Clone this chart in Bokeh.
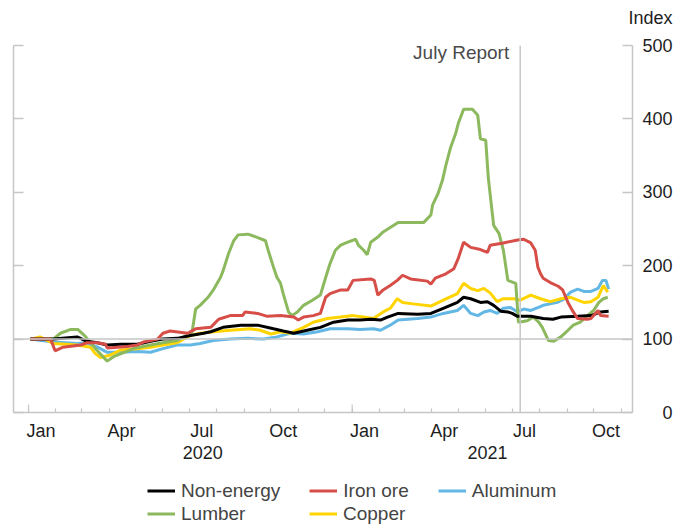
import pandas as pd
from bokeh.plotting import figure
from bokeh.layouts import column
from bokeh.models import LinearAxis, FixedTicker, Span, Label, Legend, LegendItem, Range1d
from bokeh.embed import file_html
from bokeh.resources import INLINE

START = pd.Timestamp("2020-01-01")


def to_day(d):
    return int((pd.Timestamp(d) - START).days)


# ---- data: x = days since 2020-01-01, y = index (Jan 2020 = 100) ----
nonenergy_day = [2, 28, 55, 66, 78, 89, 104, 123, 138, 152, 168, 183, 198, 206, 220, 240, 259, 277, 288, 300,
                 315, 330, 345, 361, 375, 387, 398, 406, 418, 440, 455, 469, 485, 492, 500, 511, 519, 526, 534, 542,
                 547, 553, 568, 582, 593, 602, 621, 636, 647, 656]
nonenergy_val = [100, 100, 103, 97, 95, 92, 93, 93, 97, 100, 101, 105, 108, 110, 116, 119, 119, 114, 111, 108,
                 112, 116, 123, 126, 126, 127, 126, 130, 135, 134, 135, 142, 150, 157, 155, 150, 151, 146, 138, 137,
                 135, 131, 131, 128, 127, 130, 131, 132, 137, 138]

ironore_day = [2, 25, 30, 39, 59, 66, 78, 87, 89, 112, 123, 130, 146, 152, 160, 180, 189, 206, 215, 228,
               242, 245, 259, 270, 285, 300, 305, 311, 322, 330, 336, 341, 353, 361, 367, 387, 391, 395, 401, 409,
               417, 423, 432, 451, 455, 460, 472, 481, 486, 492, 500, 511, 519, 522, 537, 553, 560, 568, 573, 576,
               579, 582, 590, 599, 604, 610, 616, 621, 632, 636, 644, 647, 656]
ironore_val = [100, 100, 84, 89, 92, 95, 95, 93, 88, 90, 92, 96, 100, 108, 111, 108, 114, 116, 127, 132,
               132, 137, 135, 131, 132, 130, 126, 130, 132, 135, 157, 162, 167, 167, 180, 182, 180, 160, 167, 173,
               180, 187, 182, 179, 175, 183, 189, 196, 210, 232, 225, 222, 218, 228, 231, 235, 236, 231, 221, 198,
               189, 183, 177, 172, 167, 150, 137, 128, 127, 128, 139, 132, 131]

aluminum_day = [2, 28, 55, 66, 78, 89, 104, 123, 138, 152, 168, 183, 194, 209, 228, 248, 266, 281, 296, 311,
                327, 341, 361, 375, 390, 398, 409, 418, 440, 455, 469, 485, 492, 500, 508, 515, 522, 530, 537, 545,
                553, 560, 568, 576, 582, 590, 598, 605, 613, 621, 628, 636, 644, 649, 653, 656]
aluminum_val = [100, 96, 94, 95, 89, 82, 82, 83, 82, 87, 92, 92, 94, 98, 100, 101, 100, 103, 108, 107,
                110, 114, 114, 113, 114, 112, 119, 126, 128, 130, 135, 139, 146, 135, 132, 137, 139, 135, 142, 143,
                137, 141, 139, 143, 146, 148, 150, 154, 164, 168, 165, 165, 169, 180, 180, 168]

lumber_day = [2, 28, 36, 47, 56, 64, 75, 85, 89, 96, 104, 121, 138, 152, 168, 180, 185, 189, 194, 203,
              209, 217, 220, 226, 232, 237, 248, 260, 268, 271, 277, 281, 285, 288, 294, 298, 304, 311, 321, 330,
              336, 341, 347, 353, 361, 370, 373, 379, 383, 387, 395, 401, 409, 418, 447, 455, 457, 463, 468, 472,
              477, 483, 486, 492, 502, 508, 511, 517, 520, 526, 532, 537, 542, 551, 554, 564, 571, 577, 581, 588,
              594, 602, 610, 616, 624, 632, 639, 645, 650, 655]
lumber_val = [100, 100, 108, 113, 113, 104, 88, 75, 70, 76, 80, 88, 92, 95, 98, 106, 110, 141, 146, 157,
              167, 184, 193, 216, 234, 242, 243, 238, 234, 221, 198, 184, 176, 162, 137, 132, 137, 146, 153, 160,
              184, 203, 221, 228, 232, 236, 228, 221, 215, 232, 239, 246, 252, 259, 259, 269, 283, 298, 316, 337,
              360, 380, 394, 413, 413, 405, 373, 371, 319, 255, 244, 221, 180, 176, 123, 125, 130, 123, 116, 98,
              97, 103, 112, 119, 123, 132, 139, 150, 155, 157]

copper_day = [2, 13, 28, 55, 70, 75, 81, 92, 104, 123, 138, 152, 168, 183, 194, 209, 228, 251, 262, 274,
              285, 296, 311, 322, 338, 353, 367, 379, 390, 401, 409, 417, 423, 435, 455, 469, 485, 492, 500, 508,
              515, 522, 530, 537, 549, 556, 568, 579, 590, 602, 613, 621, 628, 636, 644, 650, 655]
copper_val = [100, 103, 94, 92, 89, 81, 75, 78, 85, 87, 89, 92, 95, 105, 108, 110, 112, 114, 112, 107,
              110, 108, 116, 123, 128, 130, 132, 130, 128, 137, 142, 155, 150, 148, 145, 153, 162, 176, 169, 166,
              169, 163, 151, 155, 155, 153, 160, 155, 151, 155, 157, 153, 150, 151, 157, 173, 164]

month_label_names = ["Jan", "Apr", "Jul", "Oct", "Jan", "Apr", "Jul", "Oct"]
month_label_dates = ["2020-01-15", "2020-04-15", "2020-07-15", "2020-10-15",
                     "2021-01-15", "2021-04-15", "2021-07-15", "2021-10-15"]
year_labels = ["2020", "2021"]
year_label_dates = ["2020-07-16", "2021-06-03"]
year_start_dates = ["2020-01-01", "2021-01-01"]
y_ticks = [0, 100, 200, 300, 400, 500]
y_unit = "Index"
report_date = "2021-07-10"
report_text = "July Report"
base_index = 100
x_start, x_end = "2019-12-15", "2021-11-14"
legend_rows = [["Non-energy", "Iron ore", "Aluminum"], ["Lumber", "Copper"]]

# ---- styling ----
FONT = "Liberation Sans"
GRAY = "#c6c6c6"
TICK_COLOR = "#1e1e1e"
LEG_COLOR = "#444444"
COLORS = {
    "Non-energy": "#000000",
    "Iron ore": "#d64e47",
    "Aluminum": "#62b7e4",
    "Lumber": "#8cb95d",
    "Copper": "#ffd400",
}
W = 687
TOP_H, MAIN_H, LEG_H = 30, 442, 53


def bare_figure(h):
    f = figure(width=W, height=h, output_backend="svg", toolbar_location=None,
               x_range=Range1d(0, 1), y_range=Range1d(0, h),
               x_axis_location=None, y_axis_location=None,
               min_border=0, min_border_left=0, min_border_right=0,
               min_border_top=0, min_border_bottom=0)
    f.outline_line_color = None
    f.xgrid.visible = False
    f.ygrid.visible = False
    return f


# ---- top strip: unit label shown as a right-side axis label ----
top = bare_figure(TOP_H)
unit_ax = LinearAxis(ticker=FixedTicker(ticks=[TOP_H - 17]),
                     major_label_overrides={TOP_H - 17: y_unit},
                     axis_line_color=None, major_tick_line_color=None, minor_tick_line_color=None,
                     major_tick_in=0, major_tick_out=0, major_label_standoff=-4,
                     major_label_text_font=FONT, major_label_text_font_size="18px",
                     major_label_text_color=TICK_COLOR)
top.add_layout(unit_ax, "right")

# ---- main chart ----
p = figure(width=W, height=MAIN_H, output_backend="svg", toolbar_location=None,
           x_range=Range1d(to_day(x_start), to_day(x_end)), y_range=Range1d(0, 500),
           y_axis_location="right",
           min_border_left=13, min_border_right=55, min_border_top=15, min_border_bottom=60)
p.outline_line_color = None
p.xgrid.visible = False
p.ygrid.visible = False

# right axis
yax = p.yaxis[0]
yax.ticker = FixedTicker(ticks=y_ticks)
yax.major_label_overrides = {t: ("\u2007" * (3 - len(str(t)))) + str(t) for t in y_ticks}
yax.major_tick_in = 10
yax.major_tick_out = 0
yax.minor_tick_line_color = None
yax.axis_line_color = GRAY
yax.axis_line_width = 1.5
yax.major_tick_line_color = GRAY
yax.major_tick_line_width = 1.5
yax.major_label_standoff = 10
yax.major_label_text_font = FONT
yax.major_label_text_font_size = "18px"
yax.major_label_text_color = TICK_COLOR

# left axis (no labels)
lax = LinearAxis(ticker=FixedTicker(ticks=y_ticks),
                 major_label_overrides={t: "" for t in y_ticks},
                 major_tick_in=10, major_tick_out=0, major_label_standoff=0,
                 minor_tick_line_color=None, axis_line_color=GRAY, axis_line_width=1.5,
                 major_tick_line_color=GRAY, major_tick_line_width=1.5)
p.add_layout(lax, "left")

# bottom month axis
month_starts = [to_day(d) for d in pd.date_range("2020-01-01", "2021-11-01", freq="MS")]
month_label_days = [to_day(d) for d in month_label_dates]
xax = p.xaxis[0]
xax.ticker = FixedTicker(ticks=month_label_days, minor_ticks=month_starts)
xax.major_label_overrides = dict(zip(month_label_days, month_label_names))
xax.major_tick_line_color = None
xax.major_tick_in = 0
xax.major_tick_out = 0
xax.minor_tick_in = 4
xax.minor_tick_out = 0
xax.minor_tick_line_color = GRAY
xax.minor_tick_line_width = 1.2
xax.axis_line_color = GRAY
xax.axis_line_width = 1.5
xax.major_label_standoff = 8
xax.major_label_text_font = FONT
xax.major_label_text_font_size = "18px"
xax.major_label_text_color = TICK_COLOR

# year axis
year_label_days = [to_day(d) for d in year_label_dates]
yr_ax = LinearAxis(ticker=FixedTicker(ticks=year_label_days),
                   major_label_overrides=dict(zip(year_label_days, year_labels)),
                   axis_line_color=None, major_tick_line_color=None, minor_tick_line_color=None,
                   major_tick_in=0, major_tick_out=0, major_label_standoff=2,
                   major_label_text_font=FONT, major_label_text_font_size="18px",
                   major_label_text_color=TICK_COLOR)
p.add_layout(yr_ax, "below")

# taller ticks at year boundaries
year_start_days = [to_day(d) for d in year_start_dates]
p.segment(x0=year_start_days, y0=[0] * len(year_start_days), x1=year_start_days,
          y1=[11] * len(year_start_days), line_color=GRAY, line_width=1.2)

# reference lines
p.add_layout(Span(location=base_index, dimension="width", line_color=GRAY, line_width=1.5))
p.add_layout(Span(location=to_day(report_date), dimension="height", line_color=GRAY, line_width=1.5))
p.add_layout(Label(x=to_day(report_date), y=491, text=report_text, x_offset=-11,
                   text_align="right", text_baseline="middle", text_font=FONT,
                   text_font_size="19px", text_color="#4a4a4a"))

# series
series = {
    "Aluminum": (aluminum_day, aluminum_val),
    "Copper": (copper_day, copper_val),
    "Lumber": (lumber_day, lumber_val),
    "Non-energy": (nonenergy_day, nonenergy_val),
    "Iron ore": (ironore_day, ironore_val),
}
for name, (xs, ys) in series.items():
    p.line(xs, ys, line_color=COLORS[name], line_width=3)

# ---- legend strip (key lines sit outside the visible range) ----
lf = bare_figure(LEG_H)
key = {name: lf.line([-2, -1], [-2, -2], line_color=COLORS[name], line_width=3) for name in COLORS}


def make_legend(names, loc, label_width):
    leg = Legend(items=[LegendItem(label=n, renderers=[key[n]]) for n in names],
                 orientation="horizontal", location=loc,
                 glyph_width=28, glyph_height=23, label_height=23, label_width=label_width,
                 label_standoff=6, spacing=29, padding=0, margin=0,
                 border_line_color=None, background_fill_alpha=0,
                 label_text_font=FONT, label_text_font_size="19px", label_text_color=LEG_COLOR)
    lf.add_layout(leg, "center")


make_legend(legend_rows[0], (134, 23), 0)
make_legend(legend_rows[1], (134, 0), 99)

layout = column(top, p, lf, spacing=0)
open("out.html", "w").write(file_html(layout, INLINE))
